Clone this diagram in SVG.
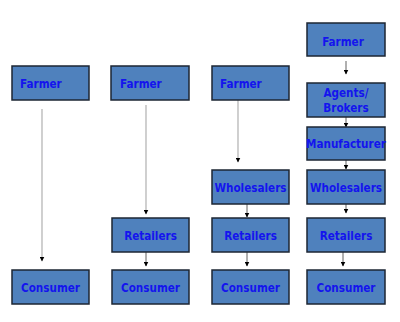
<svg xmlns="http://www.w3.org/2000/svg" width="400" height="322" viewBox="0 0 400 322">
<style>
.box{fill:#4f81bd;stroke:#1c2633;stroke-width:1.5}
.t{font-family:"DejaVu Sans Condensed","DejaVu Sans",Verdana,sans-serif;font-weight:bold;font-size:11.6px;fill:#1414ee}
.c{text-anchor:middle}
.ln{stroke:#b0b0b0;stroke-width:1.2;fill:none}
.ld{stroke:#606060;stroke-width:1;fill:none}
</style>
<defs>
<marker id="a2" markerWidth="5" markerHeight="5" refX="4.5" refY="2.5" orient="auto" markerUnits="userSpaceOnUse" viewBox="0 0 5 5">
<path d="M0,0 L5,2.5 L0,5 Z" fill="#000"/>
</marker>
</defs>
<rect width="400" height="322" fill="#fff"/>
<g id="connectors">
<line class="ln" x1="42" y1="109" x2="42" y2="261" marker-end="url(#a2)"/>
<line class="ln" x1="146" y1="105" x2="146" y2="214" marker-end="url(#a2)"/>
<line class="ln" x1="238" y1="100" x2="238" y2="162" marker-end="url(#a2)"/>
<line class="ld" x1="146" y1="252" x2="146" y2="266" marker-end="url(#a2)"/>
<line class="ld" x1="247" y1="204" x2="247" y2="217" marker-end="url(#a2)"/>
<line class="ld" x1="247" y1="252" x2="247" y2="266" marker-end="url(#a2)"/>
<line class="ld" x1="346" y1="61" x2="346" y2="74" marker-end="url(#a2)"/>
<line class="ld" x1="346" y1="117" x2="346" y2="127" marker-end="url(#a2)"/>
<line class="ld" x1="346" y1="160" x2="346" y2="169" marker-end="url(#a2)"/>
<line class="ld" x1="346" y1="204" x2="346" y2="213" marker-end="url(#a2)"/>
<line class="ld" x1="343" y1="252" x2="343" y2="266" marker-end="url(#a2)"/>
</g>
<g id="c1-farmer"><rect class="box" x="12" y="66" width="77" height="34"/><text class="t" x="20" y="88">Farmer</text></g>
<g id="c1-consumer"><rect class="box" x="12" y="270" width="77" height="34"/><text class="t c" x="50.5" y="292">Consumer</text></g>
<g id="c2-farmer"><rect class="box" x="111" y="66" width="78" height="34"/><text class="t" x="120" y="88">Farmer</text></g>
<g id="c2-retailers"><rect class="box" x="112" y="218" width="77" height="34"/><text class="t c" x="150.5" y="240">Retailers</text></g>
<g id="c2-consumer"><rect class="box" x="112" y="270" width="77" height="34"/><text class="t c" x="150.5" y="292">Consumer</text></g>
<g id="c3-farmer"><rect class="box" x="212" y="66" width="77" height="34"/><text class="t" x="220" y="88">Farmer</text></g>
<g id="c3-wholesalers"><rect class="box" x="212" y="170" width="77" height="34"/><text class="t c" x="250.5" y="192">Wholesalers</text></g>
<g id="c3-retailers"><rect class="box" x="212" y="218" width="77" height="34"/><text class="t c" x="250.5" y="240">Retailers</text></g>
<g id="c3-consumer"><rect class="box" x="212" y="270" width="77" height="34"/><text class="t c" x="250.5" y="292">Consumer</text></g>
<g id="c4-farmer"><rect class="box" x="307" y="23" width="78" height="33"/><text class="t c" x="343" y="46">Farmer</text></g>
<g id="c4-agents"><rect class="box" x="307" y="83" width="78" height="34"/><text class="t c" x="346" y="97">Agents/</text><text class="t c" x="346" y="112">Brokers</text></g>
<g id="c4-manufacturer"><rect class="box" x="307" y="127" width="78" height="33"/><text class="t c" x="346" y="148">Manufacturer</text></g>
<g id="c4-wholesalers"><rect class="box" x="307" y="170" width="78" height="34"/><text class="t c" x="346" y="192">Wholesalers</text></g>
<g id="c4-retailers"><rect class="box" x="307" y="218" width="78" height="34"/><text class="t c" x="346" y="240">Retailers</text></g>
<g id="c4-consumer"><rect class="box" x="307" y="270" width="78" height="34"/><text class="t c" x="346" y="292">Consumer</text></g>
</svg>
